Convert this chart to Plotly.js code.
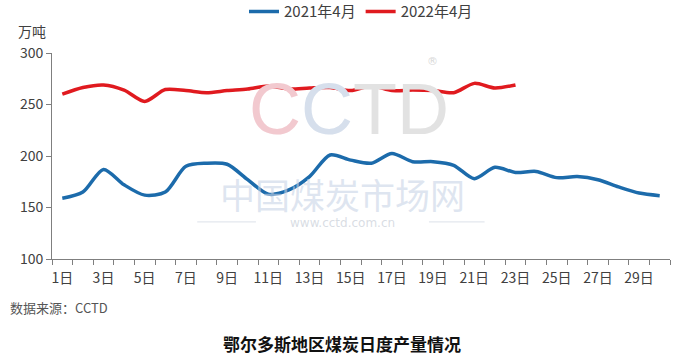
<!DOCTYPE html>
<html>
<head>
<meta charset="utf-8">
<script src="https://cdn.plot.ly/plotly-3.0.1.min.js"></script>
<style>
html,body{margin:0;padding:0;background:#fff;}
#chart{width:676px;height:362px;}
</style>
</head>
<body>
<div id="chart"></div>
<script>
const days = [1,2,3,4,5,6,7,8,9,10,11,12,13,14,15,16,17,18,19,20,21,22,23,24,25,26,27,28,29,30];
const days2022 = [1,2,3,4,5,6,7,8,9,10,11,12,13,14,15,16,17,18,19,20,21,22,23];
const tickDays = [1,3,5,7,9,11,13,15,17,19,21,23,25,27,29];
const tickLabels = ["1日","3日","5日","7日","9日","11日","13日","15日","17日","19日","21日","23日","25日","27日","29日"];
const series2021Name = "2021年4月";
const series2022Name = "2022年4月";
const values2021 = [159,165,187,172,162,165,190,193,192,177,163,167,180,201,196,193,202.5,194.5,194.5,191,178,189,184,185,179,180,177,170,164,161.5];
const values2022 = [260,266.5,269,264,253,264.5,263.5,261.5,263.5,265,268,265,266,266.5,263.5,268,263.5,264,263.5,261.5,270.5,266,269];

const cjk = '"Noto Sans CJK SC", "Noto Sans", sans-serif';

const traces = [
  {x: days, y: values2021, name: series2021Name, type: 'scatter', mode: 'lines',
   line: {color: '#1c6bab', width: 3.5, shape: 'spline', smoothing: 0.8}},
  {x: days2022, y: values2022, name: series2022Name, type: 'scatter', mode: 'lines',
   line: {color: '#e01a1f', width: 3.5, shape: 'spline', smoothing: 0.8}}
];

const layout = {
  width: 676, height: 362,
  margin: {l: 52, r: 6, t: 53, b: 103, autoexpand: false},
  paper_bgcolor: '#fff', plot_bgcolor: 'rgba(0,0,0,0)',
  showlegend: true,
  legend: {orientation: 'h', x: 0.5, xanchor: 'center', y: 1.2, yanchor: 'middle',
    xref: 'paper', yref: 'paper',
    font: {family: cjk, size: 15, color: '#404040'}, itemwidth: 30, tracegroupgap: 0},
  xaxis: {range: [0.5, 30.5], tickvals: tickDays, ticktext: tickLabels,
    showgrid: false, zeroline: false, showline: true, linecolor: '#7f7f7f', linewidth: 1,
    ticks: '', ticklabelstandoff: 6, tickfont: {family: cjk, size: 14, color: '#404040'},
    minor: {tick0: 0.5, dtick: 1, ticks: 'outside', ticklen: 5, tickcolor: '#7f7f7f', showgrid: false}},
  yaxis: {range: [100, 300], tickvals: [100,150,200,250,300],
    showgrid: false, zeroline: false, showline: true, linecolor: '#7f7f7f', linewidth: 1,
    ticks: 'outside', ticklen: 5, tickcolor: '#7f7f7f',
    tickfont: {family: cjk, size: 14, color: '#404040'}},
  shapes: [
    {type: 'line', xref: 'paper', yref: 'paper', x0: 0.235, x1: 0.33, y0: 0.18, y1: 0.18,
     line: {color: 'rgba(205,212,225,0.7)', width: 1}, layer: 'below'},
    {type: 'line', xref: 'paper', yref: 'paper', x0: 0.61, x1: 0.7, y0: 0.18, y1: 0.18,
     line: {color: 'rgba(205,212,225,0.7)', width: 1}, layer: 'below'}
  ],
  annotations: [
    {text: '万吨', xref: 'paper', yref: 'paper', x: -0.058, y: 1.05, xanchor: 'left', yanchor: 'bottom',
     showarrow: false, font: {family: cjk, size: 14, color: '#404040'}},
    {text: '<span style="color:#f2c9cf">C</span><span style="color:#d6dfec">C</span><span style="color:#e2e2e2">TD</span>',
     xref: 'paper', yref: 'paper', x: 0.48, y: 0.73, xanchor: 'center', yanchor: 'middle',
     showarrow: false, font: {family: 'Liberation Sans, sans-serif', size: 72, color: '#e4e4e4'}},
    {text: '®', xref: 'paper', yref: 'paper', x: 0.615, y: 0.96, xanchor: 'center', yanchor: 'middle',
     showarrow: false, font: {family: 'DejaVu Sans, sans-serif', size: 11, color: '#d8d8d8'}},
    {text: '中国煤炭市场网', xref: 'paper', yref: 'paper', x: 0.47, y: 0.32, xanchor: 'center', yanchor: 'middle',
     showarrow: false, font: {family: cjk, size: 35, color: 'rgba(200,212,230,0.6)'}},
    {text: 'www.cctd.com.cn', xref: 'paper', yref: 'paper', x: 0.47, y: 0.175, xanchor: 'center', yanchor: 'middle',
     showarrow: false, font: {family: 'DejaVu Sans, sans-serif', size: 12, color: 'rgba(200,206,215,0.7)'}},
    {text: '数据来源：CCTD', xref: 'paper', yref: 'paper', x: -0.072, y: -0.235, xanchor: 'left', yanchor: 'middle',
     showarrow: false, font: {family: cjk, size: 13, color: '#555'}},
    {text: '<b>鄂尔多斯地区煤炭日度产量情况</b>', xref: 'paper', yref: 'paper', x: 0.47, y: -0.41, xanchor: 'center', yanchor: 'middle',
     showarrow: false, font: {family: cjk, size: 17, color: '#111'}}
  ]
};

Plotly.newPlot('chart', traces, layout, {displayModeBar: false, staticPlot: true});
</script>
</body>
</html>
